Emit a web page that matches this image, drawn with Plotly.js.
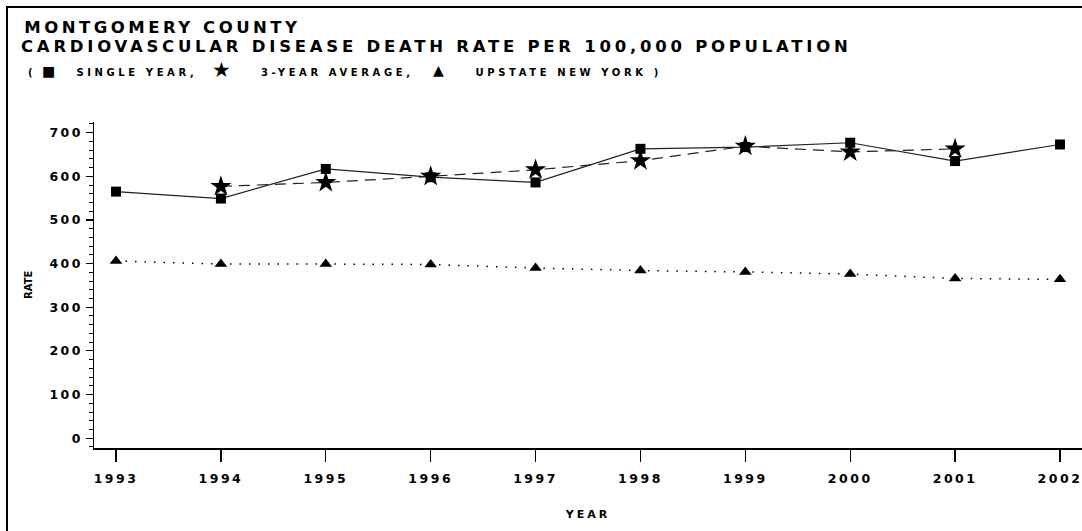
<!DOCTYPE html>
<html>
<head>
<meta charset="utf-8">
<script src="https://cdn.plot.ly/plotly-3.0.1.min.js"></script>
<style>
html,body{margin:0;padding:0;background:#fff;}
#chart{width:1082px;height:531px;}
.xtick text, .ytick text{letter-spacing:2.5px;}
.xtitle{letter-spacing:3px;}
.annotation[data-index="0"] text{letter-spacing:3.5px;}
.annotation[data-index="1"] text{letter-spacing:3.75px;}
.annotation[data-index="4"] text, .annotation[data-index="6"] text, .annotation[data-index="8"] text{letter-spacing:3.6px;}
</style>
</head>
<body>
<div id="chart"></div>
<script>
const years = [1993, 1994, 1995, 1996, 1997, 1998, 1999, 2000, 2001, 2002];
const singleYear = [565, 549, 617, 598, 586, 663, 667, 677, 635, 673];
const avgYears = [1994, 1995, 1996, 1997, 1998, 1999, 2000, 2001];
const threeYearAvg = [577, 586, 600, 615, 636, 669, 656, 663];
const upstateNY = [406, 399, 399, 398, 390, 384, 381, 376, 366, 364];
const yTicks = [0, 100, 200, 300, 400, 500, 600, 700];

const W = 1082, H = 531, L = 94, R = 0, T = 122, B = 83;
const px = x => (x - L) / (W - L - R);
const py = y => 1 - (y - T) / (H - T - B);
const FONT = 'DejaVu Sans';

const traces = [
  {x: years, y: singleYear, mode: 'lines+markers', name: 'SINGLE YEAR',
   line: {color: '#222', width: 1.2},
   marker: {symbol: 'square', size: 10, color: '#000'}},
  {x: avgYears, y: threeYearAvg, mode: 'lines+markers', name: '3-YEAR AVERAGE',
   line: {color: '#222', width: 1.2, dash: '11px,7px'},
   marker: {symbol: 'star', size: 16, color: '#000'}},
  {x: years, y: upstateNY, mode: 'lines+markers', name: 'UPSTATE NEW YORK',
   line: {color: '#000', width: 1.5, dash: '1.5px,8px'},
   marker: {symbol: 'triangle-up', size: 11, color: '#000'}}
];

function ann(text, x, y, size, anchor) {
  return {text: '<b>' + text + '</b>', xref: 'paper', yref: 'paper',
    x: px(x), y: py(y), xanchor: anchor || 'center', yanchor: 'middle', showarrow: false,
    font: {family: FONT, size: size, color: '#000'}};
}

const layout = {
  width: W, height: H,
  margin: {l: L, r: R, t: T, b: B, pad: 0},
  paper_bgcolor: '#fff', plot_bgcolor: '#fff',
  showlegend: false,
  font: {family: FONT, color: '#000'},
  xaxis: {
    range: [1992.79, 2002.21], tickvals: years, ticktext: years.map(String),
    ticks: 'outside', ticklen: 12, tickwidth: 1.2, tickcolor: '#000',
    ticklabelstandoff: 6, ticklabeloverflow: 'allow',
    showline: true, linecolor: '#000', linewidth: 1.5,
    showgrid: false, zeroline: false,
    tickfont: {family: FONT, size: 12.5, color: '#000', weight: 'bold'},
    title: {text: '<b>YEAR</b>', font: {family: FONT, size: 11, color: '#000'}, standoff: 26}
  },
  yaxis: {
    range: [-22.5, 724.5], tickvals: yTicks, ticktext: yTicks.map(String),
    ticks: 'outside', ticklen: 7, tickwidth: 1.2, tickcolor: '#000',
    minor: {dtick: 20, tick0: 0, ticks: 'outside', ticklen: 4, tickwidth: 1, tickcolor: '#000', showgrid: false},
    showline: true, linecolor: '#000', linewidth: 1.5,
    showgrid: false, zeroline: false,
    tickfont: {family: FONT, size: 12.5, color: '#000', weight: 'bold'},
    title: {text: '', font: {family: FONT, size: 10}}
  },
  shapes: [
    {type: 'rect', xref: 'paper', yref: 'paper', x0: px(7), x1: px(1100), y0: py(7), y1: py(560),
     line: {color: '#000', width: 2}, fillcolor: 'rgba(0,0,0,0)', layer: 'below'}
  ],
  annotations: [
    ann('MONTGOMERY COUNTY', 163, 28, 16.5),
    ann('CARDIOVASCULAR DISEASE DEATH RATE PER 100,000 POPULATION', 436, 46, 16.5),
    ann('(', 30, 72, 10),
    ann('■', 40, 71, 14, 'left'),
    ann('SINGLE YEAR,', 137, 72, 10),
    ann('★', 210, 70, 21, 'left'),
    ann('3-YEAR AVERAGE,', 337, 72, 10),
    ann('▲', 431, 70, 14, 'left'),
    ann('UPSTATE NEW YORK )', 568, 72, 10),
    {text: '<b>RATE</b>', xref: 'paper', yref: 'paper', x: px(28), y: py(285),
     xanchor: 'center', yanchor: 'middle', textangle: -90, showarrow: false,
     font: {family: FONT, size: 10, color: '#000'}}
  ]
};

Plotly.newPlot('chart', traces, layout, {displayModeBar: false, staticPlot: true});
</script>
</body>
</html>
